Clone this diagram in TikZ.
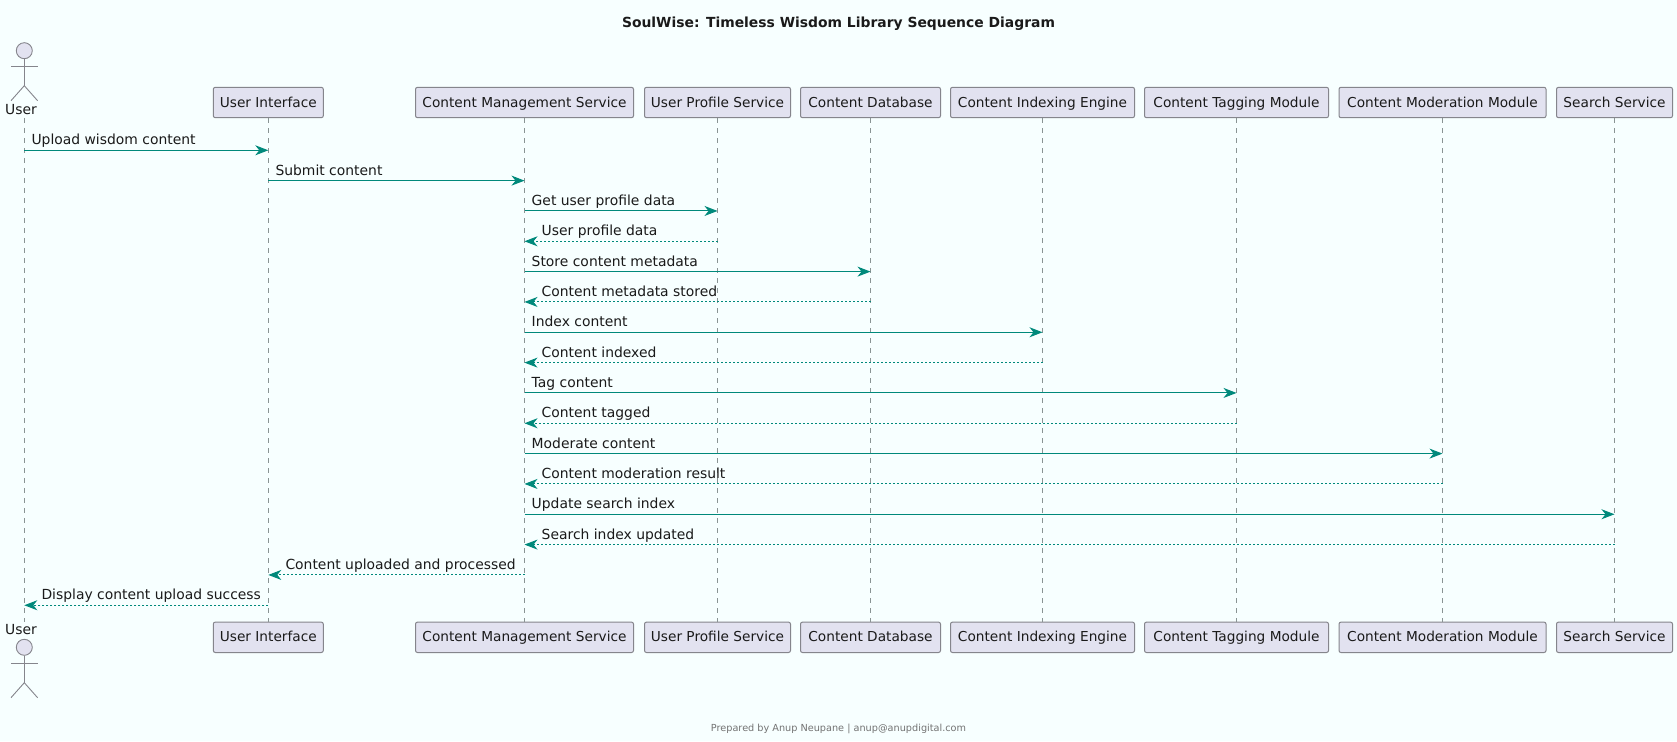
\documentclass[tikz,border=0pt]{standalone}
\usepackage{fontspec}
\setmainfont{DejaVu Sans}
\usetikzlibrary{arrows.meta,calc}
\definecolor{bgc}{HTML}{F7FFFF}
\definecolor{teal1}{HTML}{00897B}
\definecolor{boxf}{HTML}{E2E2F0}
\definecolor{boxd}{HTML}{85858C}
\definecolor{lifec}{HTML}{8A9494}
\definecolor{txt}{HTML}{1A1A1A}
\tikzset{
  x=1pt,y=-1pt,
  part/.style={draw=boxd,fill=boxf,line width=1pt,rounded corners=2pt,minimum height=30.4pt,inner sep=0pt,text height=10.5pt,text depth=1.5pt,text=txt,font=\fontsize{13.7}{16}\selectfont},
  life/.style={draw=lifec,line width=1pt,dash pattern=on 5pt off 5pt},
  actorline/.style={draw=boxd,line width=0.9pt},
  actorhead/.style={circle,draw=boxd,fill=boxf,line width=0.9pt,minimum size=16pt,inner sep=0pt},
  msg/.style={draw=teal1,line width=1pt,-{Stealth[length=13pt,width=10pt,inset=4pt,fill=teal1]}},
  ret/.style={draw=teal1,line width=1pt,dash pattern=on 2pt off 2pt,-{Stealth[length=13pt,width=10pt,inset=4pt,fill=teal1]}},
  lab/.style={anchor=base west,inner sep=0pt,text=txt,font=\fontsize{13.9}{16}\selectfont},
  ttl/.style={inner sep=0pt,text=txt,font=\fontsize{13.9}{16}\selectfont\bfseries},
  foot/.style={inner sep=0pt,text=black!55,font=\fontsize{9.7}{12}\selectfont},
  actlab/.style={inner sep=0pt,text=txt,font=\fontsize{13.9}{16}\selectfont}
}
\begin{document}
\begin{tikzpicture}
\useasboundingbox[fill=bgc] (0,0) rectangle (1677,741);
\node[ttl] (title) at (838.5,23.3) {SoulWise: Timeless Wisdom Library Sequence Diagram};
\node[foot] (footer) at (838.5,729) {Prepared by Anup Neupane | anup@anupdigital.com};

% participants, top row
\node[part,minimum width=110pt] (ui) at (268.3,102.5) {User Interface};
\node[part,minimum width=218pt] (cms) at (524.5,102.5) {Content Management Service};
\node[part,minimum width=146pt] (ups) at (717.5,102.5) {User Profile Service};
\node[part,minimum width=140pt] (cd) at (870.5,102.5) {Content Database};
\node[part,minimum width=184pt] (cie) at (1042.5,102.5) {Content Indexing Engine};
\node[part,minimum width=184pt] (ctm) at (1236.5,102.5) {Content Tagging Module};
\node[part,minimum width=207pt] (cmm) at (1442.5,102.5) {Content Moderation Module};
\node[part,minimum width=116pt] (ss) at (1614.5,102.5) {Search Service};
% participants, bottom row
\node[part,minimum width=110pt] (uib) at (268.3,637.3) {User Interface};
\node[part,minimum width=218pt] (cmsb) at (524.5,637.3) {Content Management Service};
\node[part,minimum width=146pt] (upsb) at (717.5,637.3) {User Profile Service};
\node[part,minimum width=140pt] (cdb) at (870.5,637.3) {Content Database};
\node[part,minimum width=184pt] (cieb) at (1042.5,637.3) {Content Indexing Engine};
\node[part,minimum width=184pt] (ctmb) at (1236.5,637.3) {Content Tagging Module};
\node[part,minimum width=207pt] (cmmb) at (1442.5,637.3) {Content Moderation Module};
\node[part,minimum width=116pt] (ssb) at (1614.5,637.3) {Search Service};

% actor top
\node[actorhead] (head) at (24.3,50.7) {};
\node[actlab] (user) at (21,110) {User};
\coordinate (crotch) at (24.3,85.7);
\coordinate (usertop) at (24.3,118);
\draw[actorline] (head.south) -- (crotch);
\draw[actorline] (11,66.3) -- (37.6,66.3);
\draw[actorline] (crotch) -- (11,100.7);
\draw[actorline] (crotch) -- (37.6,100.7);
% actor bottom
\node[actorhead] (headb) at (24.3,647.3) {};
\node[actlab] (userb) at (21,630) {User};
\coordinate (crotchb) at (24.3,682.7);
\coordinate (userbot) at (24.3,622);
\draw[actorline] (headb.south) -- (crotchb);
\draw[actorline] (11,663.3) -- (37.6,663.3);
\draw[actorline] (crotchb) -- (11,697.7);
\draw[actorline] (crotchb) -- (37.6,697.7);

% lifelines
\draw[life] (usertop) -- (userbot);
\foreach \a/\b in {ui/uib,cms/cmsb,ups/upsb,cd/cdb,cie/cieb,ctm/ctmb,cmm/cmmb,ss/ssb}
  \draw[life] (\a.south) -- (\b.north);

% rows
\foreach \i in {1,...,16}
  \coordinate (r\i) at (0,{150.3+30.33*(\i-1)});

% messages
\newcommand{\fwd}[4]{%
  \draw[msg] (#1 |- r#3) -- (#2 |- r#3);
  \node[lab] (l#3) at ($(#1 |- r#3)+(7,-5.5)$) {#4};}
\newcommand{\bck}[4]{%
  \draw[ret] (#1 |- r#3) -- (#2 |- r#3);
  \node[lab] (l#3) at ($(#2 |- r#3)+(17,-5.5)$) {#4};}
\fwd{usertop}{ui}{1}{Upload wisdom content}
\fwd{ui}{cms}{2}{Submit content}
\fwd{cms}{ups}{3}{Get user profile data}
\bck{ups}{cms}{4}{User profile data}
\fwd{cms}{cd}{5}{Store content metadata}
\bck{cd}{cms}{6}{Content metadata stored}
\fwd{cms}{cie}{7}{Index content}
\bck{cie}{cms}{8}{Content indexed}
\fwd{cms}{ctm}{9}{Tag content}
\bck{ctm}{cms}{10}{Content tagged}
\fwd{cms}{cmm}{11}{Moderate content}
\bck{cmm}{cms}{12}{Content moderation result}
\fwd{cms}{ss}{13}{Update search index}
\bck{ss}{cms}{14}{Search index updated}
\bck{cms}{ui}{15}{Content uploaded and processed}
\bck{ui}{usertop}{16}{Display content upload success}
\end{tikzpicture}
\end{document}
